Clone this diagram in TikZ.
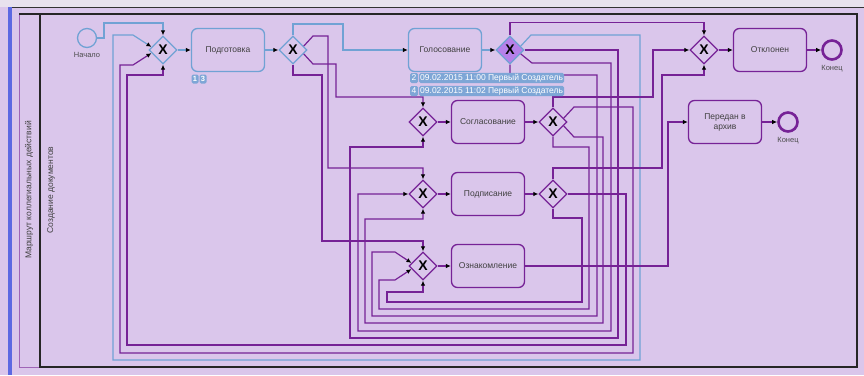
\documentclass[tikz,border=0pt]{standalone}
\usepackage{fontspec}
\setmainfont{Liberation Sans}
\usetikzlibrary{arrows.meta, shapes.geometric, positioning}
\definecolor{BgLilac}{RGB}{218,198,235}
\definecolor{TopStrip}{RGB}{232,226,238}
\definecolor{FlowPurple}{RGB}{118,34,150}
\definecolor{FlowBlue}{RGB}{112,162,212}
\definecolor{GwFill}{RGB}{182,128,234}
\definecolor{TagBlue}{RGB}{126,166,214}
\definecolor{PoolBlue}{RGB}{92,104,226}

\begin{document}
\begin{tikzpicture}[x=1pt, y=-1pt, font=\fontsize{8.5}{10}\selectfont, text=black!75,
	task/.style={rounded corners=6pt, draw=FlowPurple, line width=1.3pt, minimum width=73pt, minimum height=43pt, align=center, inner sep=2pt},
	gw/.style={diamond, draw=FlowPurple, line width=1.3pt, minimum size=28pt, inner sep=0pt, font=\fontsize{14}{14}\selectfont\bfseries, text=black},
	ev/.style={circle, draw=FlowPurple, line width=2.6pt, minimum size=19pt, inner sep=0pt},
	lbl/.style={font=\fontsize{7.5}{9}\selectfont, text=black!70},
	fl/.style={-{Latex[length=5pt, width=4.5pt, color=black]}, line width=1.2pt, FlowPurple},
	bfl/.style={fl, FlowBlue},
	tag/.style={fill=TagBlue, text=white, rounded corners=1.5pt, inner sep=1pt, minimum height=10pt},
	badge/.style={tag, font=\fontsize{7.5}{8}\selectfont\bfseries, minimum width=7pt, minimum height=9pt, inner sep=0.5pt}]
	\useasboundingbox (0,0) rectangle (864,375);
	% pool and lane
	\fill[BgLilac] (0,0) rectangle (864,375);
	\fill[TopStrip] (0,0) rectangle (864,7);
	\fill[PoolBlue] (8,7) rectangle (12,375);
	\draw[black!80, line width=1pt] (12,7) -- (864,7);
	\draw[FlowPurple!70, line width=0.8pt] (19,14) -- (19,367) -- (40,367);
	\draw[black!85, line width=1.2pt] (19,14) -- (40,14);
	\draw[black!85, line width=1.2pt] (40,14) rectangle (857,367);
	\node[rotate=90] (pool) at (29,190) {Маршрут коллегиальных действий};
	\node[rotate=90] (lane) at (51,190) {Создание документов};

	% events, tasks, gateways
	\node[ev, draw=FlowBlue, line width=1.3pt] (start) at (87,38) {};
	\node[lbl, below=1pt of start] (startl) {Начало};
	\node[gw, draw=FlowBlue] (g1) at (163,50) {X};
	\node[task, draw=FlowBlue] (prep) at (228,50) {Подготовка};
	\node[gw, draw=FlowBlue] (g2) at (293,50) {X};
	\node[task, draw=FlowBlue] (vote) at (445,50) {Голосование};
	\node[gw, draw=FlowBlue, fill=GwFill] (g3) at (510,50) {X};
	\node[gw] (grej) at (704,50) {X};
	\node[task] (rej) at (770,50) {Отклонен};
	\node[ev] (end1) at (832,50) {};
	\node[lbl, below=1pt of end1] (end1l) {Конец};
	\node[gw] (gsin) at (423,122) {X};
	\node[task] (agree) at (488,122) {Согласование};
	\node[gw] (gsout) at (553,122) {X};
	\node[gw] (gpin) at (423,194) {X};
	\node[task] (sign) at (488,194) {Подписание};
	\node[gw] (gpout) at (553,194) {X};
	\node[gw] (gzin) at (423,266) {X};
	\node[task] (read) at (488,266) {Ознакомление};
	\node[task] (arch) at (725,122) {Передан в\\архив};
	\node[ev] (end2) at (788,122) {};
	\node[lbl, below=1pt of end2] (end2l) {Конец};

	% sequence flows
	\draw[bfl] (start.east) -| (104,23) -| (g1.north);
	\draw[bfl] (g1) -- (prep);
	\draw[bfl] (prep) -- (g2);
	\draw[bfl] (g2.north) |- (343,24) |- (vote.west);
	\draw[bfl] (vote) -- (g3);
	\draw[bfl] (g3.20) -- (531,35) -| (640,360) -| (113,35) -- (133,35) -- (g1.165);
	\draw[fl] (g2.south) |- (322,75) -- (322,241) -| (gzin.north);
	\draw[fl] (g2.20) -- (313,36) -| (328,168) -| (gpin.north);
	\draw[fl] (g2.-20) -- (313,64) -| (336,97) -| (gsin.north);
	\draw[fl] (g3.north) -- ++(0,-13) -| (grej.north);
	\draw[fl] (g3.east) -| (618,338) -| (350,147) -| (gsin.south);
	\draw[fl] (g3.-20) -- (532,63) -| (611,331) -| (358,194) -- (gpin.west);
	\draw[fl] (g3.south) |- (597,75) -- (597,316) -| (372,252) -- (395,252) -- (gzin.165);
	\draw[fl] (gsin) -- (agree);
	\draw[fl] (agree) -- (gsout);
	\draw[fl] (gsout.north) |- (653,97) |- (grej.west);
	\draw[fl] (gsout.20) -- (574,107) -| (633,353) -| (120,65) -- (133,65) -- (g1.195);
	\draw[fl] (gsout.-20) -- (574,137) -| (603,323) -| (365,219) -| (gpin.south);
	\draw[fl] (gsout.south) |- (589,147) -- (589,309) -| (379,280) -- (395,280) -- (gzin.195);
	\draw[fl] (gpin) -- (sign);
	\draw[fl] (sign) -- (gpout);
	\draw[fl] (gpout.north) |- (662,168) |- (704,75) -- (grej.south);
	\draw[fl] (gpout.east) -| (626,345) -| (127,75) -| (g1.south);
	\draw[fl] (gpout.south) |- (582,218) -- (582,302) -| (387,292) -| (gzin.south);
	\draw[fl] (gzin) -- (read);
	\draw[fl] (read.east) -| (668,122) -- (arch.west);
	\draw[fl] (grej) -- (rej);
	\draw[fl] (rej) -- (end1);
	\draw[fl] (arch) -- (end2);

	% run markers
	\node[badge] (b1) at (195,79) {1};
	\node[badge] (b3) at (203,79) {3};
	\node[tag, minimum width=8pt] (t2) at (414,78) {2};
	\node[tag, anchor=west] (t2d) at (419,78) {09.02.2015 11:00 Первый Создатель};
	\node[tag, minimum width=8pt] (t4) at (414,91) {4};
	\node[tag, anchor=west] (t4d) at (419,91) {09.02.2015 11:02 Первый Создатель};
\end{tikzpicture}
\end{document}
